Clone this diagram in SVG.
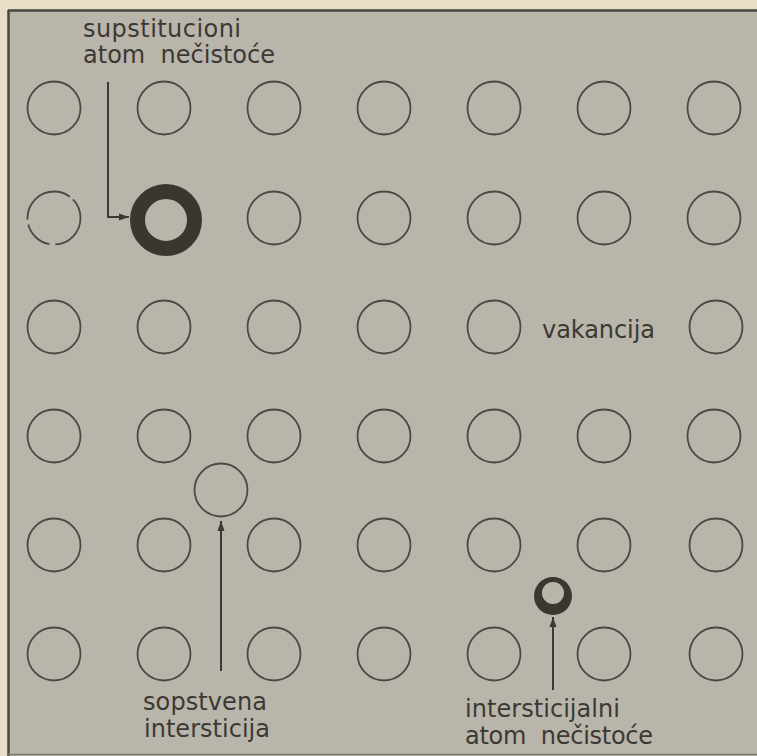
<svg xmlns="http://www.w3.org/2000/svg" width="757" height="756" viewBox="0 0 757 756">
<defs>
<style>
.atom{fill:none;stroke:#4d4840;stroke-width:1.8}
.lbl{font-family:"DejaVu Sans","Liberation Sans",Arial,sans-serif;font-size:24px;fill:#3c3934}
.conn{stroke:#3c3934;stroke-width:2;fill:none}
</style>
<marker id="ah" viewBox="0 0 10 10" refX="10" refY="5" markerWidth="10" markerHeight="10" markerUnits="userSpaceOnUse" orient="auto">
<path d="M0,1.5 L10,5 L0,8.5 z" fill="#3c3934"/>
</marker>
</defs>
<rect x="0" y="0" width="757" height="756" fill="#e8dec5"/>
<rect x="8" y="10" width="749" height="746" fill="#bab5aa"/>
<line x1="8" y1="10.5" x2="757" y2="10.5" stroke="#4a463f" stroke-width="2.5"/>
<line x1="8.5" y1="10" x2="8.5" y2="756" stroke="#4a463f" stroke-width="2.5"/>
<line x1="8" y1="754.5" x2="757" y2="754.5" stroke="#7d7a6e" stroke-width="1.5"/>

<g id="lattice">
<g id="row1">
<circle class="atom" cx="54" cy="108" r="26.5"/><circle class="atom" cx="164" cy="108" r="26.5"/><circle class="atom" cx="274" cy="108" r="26.5"/><circle class="atom" cx="384" cy="108" r="26.5"/><circle class="atom" cx="494" cy="108" r="26.5"/><circle class="atom" cx="604" cy="108" r="26.5"/><circle class="atom" cx="714" cy="108" r="26.5"/>
</g>
<g id="row2">
<circle class="atom" cx="54" cy="218" r="26.5" stroke-dasharray="40 6 30 5 60 4"/><circle class="atom" cx="274" cy="218" r="26.5"/><circle class="atom" cx="384" cy="218" r="26.5"/><circle class="atom" cx="494" cy="218" r="26.5"/><circle class="atom" cx="604" cy="218" r="26.5"/><circle class="atom" cx="714" cy="218" r="26.5"/>
</g>
<g id="row3">
<circle class="atom" cx="54" cy="327" r="26.5"/><circle class="atom" cx="164" cy="327" r="26.5"/><circle class="atom" cx="274" cy="327" r="26.5"/><circle class="atom" cx="384" cy="327" r="26.5"/><circle class="atom" cx="494" cy="327" r="26.5"/><circle class="atom" cx="716" cy="327" r="26.5"/>
</g>
<g id="row4">
<circle class="atom" cx="54" cy="436" r="26.5"/><circle class="atom" cx="164" cy="436" r="26.5"/><circle class="atom" cx="274" cy="436" r="26.5"/><circle class="atom" cx="384" cy="436" r="26.5"/><circle class="atom" cx="494" cy="436" r="26.5"/><circle class="atom" cx="604" cy="436" r="26.5"/><circle class="atom" cx="714" cy="436" r="26.5"/>
</g>
<g id="row5">
<circle class="atom" cx="54" cy="545" r="26.5"/><circle class="atom" cx="164" cy="545" r="26.5"/><circle class="atom" cx="274" cy="545" r="26.5"/><circle class="atom" cx="384" cy="545" r="26.5"/><circle class="atom" cx="494" cy="545" r="26.5"/><circle class="atom" cx="604" cy="545" r="26.5"/><circle class="atom" cx="716" cy="545" r="26.5"/>
</g>
<g id="row6">
<circle class="atom" cx="54" cy="654" r="26.5"/><circle class="atom" cx="164" cy="654" r="26.5"/><circle class="atom" cx="274" cy="654" r="26.5"/><circle class="atom" cx="384" cy="654" r="26.5"/><circle class="atom" cx="494" cy="654" r="26.5"/><circle class="atom" cx="604" cy="654" r="26.5"/><circle class="atom" cx="716" cy="654" r="26.5"/>
</g>
</g>

<g id="substitutional">
<circle cx="166" cy="220" r="28.5" fill="none" stroke="#3a3731" stroke-width="15"/>
</g>
<g id="self-interstitial">
<circle class="atom" cx="221" cy="490" r="26.5"/>
</g>
<g id="interstitial-impurity">
<circle cx="553" cy="596" r="19" fill="#3a3731"/>
<circle cx="553" cy="593" r="11" fill="#bab5aa"/>
</g>

<g id="connectors">
<polyline class="conn" points="108,82 108,217 129,217" marker-end="url(#ah)"/>
<line class="conn" x1="221" y1="671" x2="221" y2="521" marker-end="url(#ah)"/>
<line class="conn" x1="553" y1="690" x2="553" y2="617" marker-end="url(#ah)"/>
</g>

<g id="labels">
<text class="lbl" x="83" y="37" textLength="158" lengthAdjust="spacing">supstitucioni</text>
<text class="lbl" x="83" y="63" textLength="192" lengthAdjust="spacing" xml:space="preserve">atom  nečistoće</text>
<text class="lbl" x="542" y="338" textLength="113" lengthAdjust="spacing">vakancija</text>
<text class="lbl" x="143" y="710" textLength="124" lengthAdjust="spacing">sopstvena</text>
<text class="lbl" x="144" y="737" textLength="126" lengthAdjust="spacing">intersticija</text>
<text class="lbl" x="465" y="717" textLength="155" lengthAdjust="spacing">intersticijalni</text>
<text class="lbl" x="465" y="744" textLength="188" lengthAdjust="spacing" xml:space="preserve">atom  nečistoće</text>
</g>
</svg>
